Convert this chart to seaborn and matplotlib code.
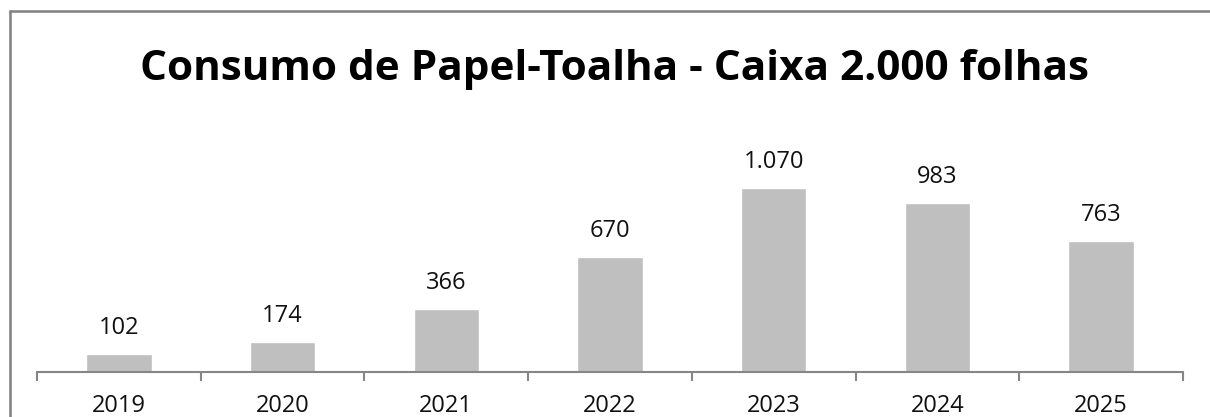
import pandas as pd
import matplotlib.pyplot as plt
import seaborn as sns
from matplotlib.lines import Line2D

# dados do grafico
anos = ["2019", "2020", "2021", "2022", "2023", "2024", "2025"]
consumo = [102, 174, 366, 670, 1070, 983, 763]
titulo = "Consumo de Papel-Toalha - Caixa 2.000 folhas"

df = pd.DataFrame({"ano": anos, "consumo": consumo})

sns.set_theme(style="white")
plt.rcParams["font.family"] = ["Open Sans", "DejaVu Sans"]

W, H = 1210, 417
fig = plt.figure(figsize=(W / 100, H / 100), dpi=100)
ax = fig.add_axes([37 / W, 45 / H, (1183 - 37) / W, (372 - 166) / H])

sns.barplot(data=df, x="ano", y="consumo", color="#bfbfbf", width=0.4,
            saturation=1, ax=ax)

# rotulos de valor acima das barras
for i, v in enumerate(consumo):
    txt = f"{v:,}".replace(",", ".")
    ax.annotate(txt, (i, v), xytext=(0, 14.4), textcoords="offset points",
                ha="center", va="baseline", fontsize=17, color="#111111")

ax.set_ylim(0, 1200)
ax.set_xlim(-0.5, len(anos) - 0.5)
ax.set_xlabel("")
ax.set_ylabel("")
ax.set_yticks([])

for s in ["top", "right", "left"]:
    ax.spines[s].set_visible(False)
ax.spines["bottom"].set_color("#868686")
ax.spines["bottom"].set_linewidth(1.5)

# marcas entre categorias
ax.set_xticks([i - 0.5 for i in range(len(anos) + 1)], minor=True)
ax.tick_params(axis="x", which="minor", bottom=True, length=6.5, width=1.5,
               color="#868686")
ax.tick_params(axis="x", which="major", length=0, pad=15.5, labelsize=17,
               labelcolor="#111111")

fig.text(615 / W, 1 - 80 / H, titulo, ha="center", va="baseline",
         fontsize=30.4, fontweight="bold", color="#000000")

# borda da area do grafico
fig.add_artist(Line2D([9.5 / W, 9.5 / W], [0, 1 - 10.5 / H],
                      transform=fig.transFigure, color="#808080", lw=1.8))
fig.add_artist(Line2D([9.5 / W, 1], [1 - 10.5 / H, 1 - 10.5 / H],
                      transform=fig.transFigure, color="#808080", lw=1.8))

fig.savefig("out.png", dpi=100, facecolor="white")
